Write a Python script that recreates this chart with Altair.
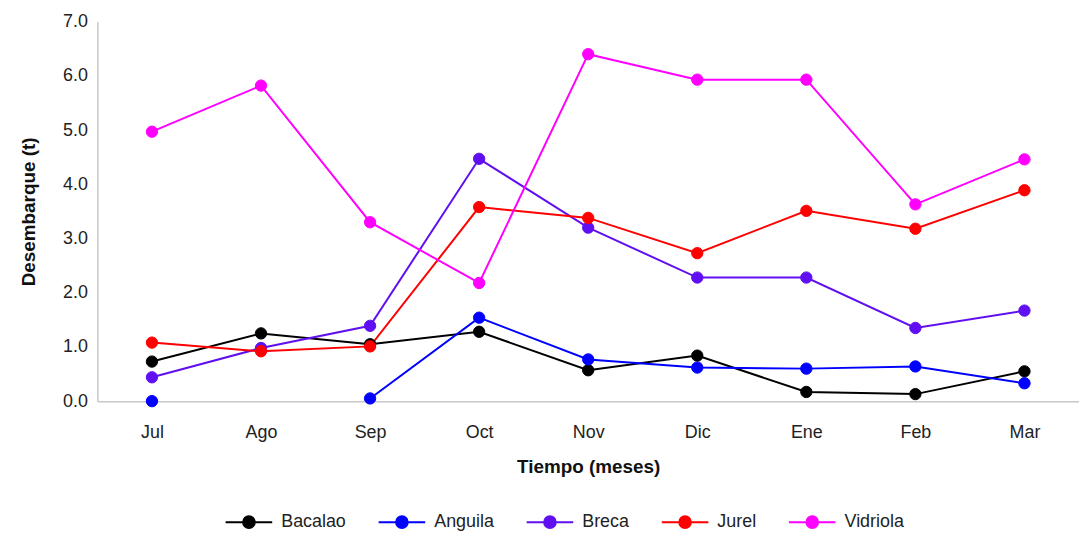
import altair as alt
import pandas as pd

months = ["Jul", "Ago", "Sep", "Oct", "Nov", "Dic", "Ene", "Feb", "Mar"]
series = ["Bacalao", "Anguila", "Breca", "Jurel", "Vidriola"]
colors = ["#000000", "#0000ff", "#6010f0", "#ff0000", "#ff00ff"]

bacalao = [0.73, 1.25, 1.05, 1.28, 0.57, 0.84, 0.17, 0.13, 0.55]
anguila = [0.0, None, 0.05, 1.54, 0.77, 0.62, 0.60, 0.64, 0.33]
breca = [0.44, 0.98, 1.39, 4.47, 3.20, 2.28, 2.28, 1.35, 1.67]
jurel = [1.08, 0.92, 1.01, 3.58, 3.38, 2.73, 3.51, 3.18, 3.89]
vidriola = [4.97, 5.82, 3.30, 2.18, 6.40, 5.93, 5.93, 3.63, 4.46]

rows = []
for name, vals in zip(series, [bacalao, anguila, breca, jurel, vidriola]):
    for m, v in zip(months, vals):
        rows.append({"Mes": m, "Especie": name, "Valor": v})
df = pd.DataFrame(rows)

FONT = "Liberation Sans Narrow, Liberation Sans, sans-serif"

legend = alt.Legend(
    title=None, orient="none", direction="horizontal",
    legendX=128, legendY=479,
    symbolType="M-1,0 L1,0 M-0.25,0 A0.25,0.25 0 1,1 0.25,0 A0.25,0.25 0 1,1 -0.25,0 Z",
    symbolSize=2200, symbolStrokeWidth=2,
    labelFont=FONT, labelFontSize=18, labelColor="#222222",
    columnPadding=28, labelOffset=8,
)
scale = alt.Scale(domain=series, range=colors)

base = alt.Chart(df).encode(
    x=alt.X("Mes:N", sort=months, scale=alt.Scale(type="point", padding=0.5),
            axis=alt.Axis(title="Tiempo (meses)", labelAngle=0, ticks=False,
                          labelPadding=23, titlePadding=16, domainColor="#c8c8c8",
                          domainWidth=1.5, grid=False)),
    y=alt.Y("Valor:Q", scale=alt.Scale(domain=[0, 7], nice=False),
            axis=alt.Axis(title="Desembarque (t)", format=".1f",
                          values=[0, 1, 2, 3, 4, 5, 6, 7], ticks=False,
                          labelOverlap=False, labelFlush=False,
                          labelPadding=10, titlePadding=24, domainColor="#c8c8c8",
                          domainWidth=1.5, grid=False)),
)

lines = base.mark_line(strokeWidth=2, invalid="break-paths-filter-domains").encode(
    stroke=alt.Stroke("Especie:N", sort=series, scale=scale, legend=legend),
)
points = base.mark_point(filled=True, size=130, opacity=1, strokeWidth=1).encode(
    stroke=alt.Stroke("Especie:N", sort=series, scale=scale, legend=legend),
    fill=alt.Fill("Especie:N", sort=series, scale=scale, legend=legend),
)

chart = alt.layer(lines, points).properties(
    width=988, height=382,
    background="white",
    autosize=alt.AutoSizeParams(type="none"),
    padding={"left": 90, "top": 12, "right": 0, "bottom": 135},
).configure_view(stroke=None).configure_axis(
    labelFont=FONT, labelFontSize=18, labelColor="#222222",
    titleFont=FONT, titleFontSize=19, titleFontWeight="bold", titleColor="#111111",
)

chart.save("out.html", embed_options={"renderer": "svg", "actions": False})
